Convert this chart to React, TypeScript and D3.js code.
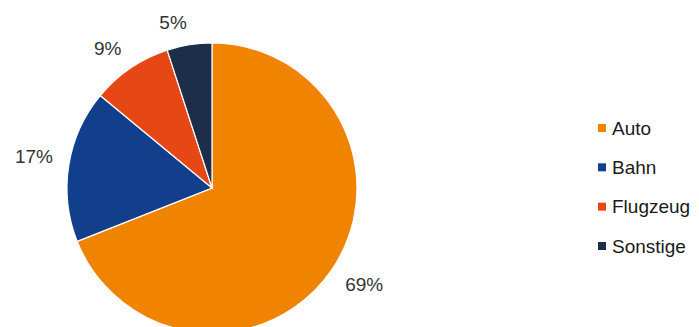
import React from "react";
import * as d3 from "d3";

const categories = ["Auto", "Bahn", "Flugzeug", "Sonstige"];
const values = [69, 17, 9, 5];
const colors = ["#f08300", "#123f8c", "#e64715", "#1c2e4a"];

export default function App() {
  const width = 699;
  const height = 327;
  const cx = 212;
  const cy = 188;
  const r = 145;
  const fs = 19;
  const data = categories.map((c, i) => ({ c, v: values[i], col: colors[i] }));
  const pie = d3.pie<any>().value((d) => d.v).sort(null);
  const arcs = pie(data);
  const arc = d3.arc<any>().innerRadius(0).outerRadius(r);
  const labelR = 161;
  const legendY = d3.scalePoint<string>().domain(categories).range([128, 246]);
  return (
    <svg width={width} height={height} style={{ position: "absolute", left: 0, top: 0 }}>
      <g transform={`translate(${cx},${cy})`}>
        {arcs.map((a, i) => (
          <path key={i} d={arc(a) as string} fill={a.data.col} stroke="#fff" strokeWidth={1.2} />
        ))}
        {arcs.map((a, i) => {
          const m = (a.startAngle + a.endAngle) / 2;
          const s = Math.sin(m);
          const c = -Math.cos(m);
          const label = `${a.data.v}%`;
          const w = (String(a.data.v).length * 0.556 + 0.889) * fs;
          const h = 12;
          const x = s * labelR + (Math.sign(s) * w) / 2;
          const y = c * labelR + (Math.sign(c) * h) / 2;
          return (
            <text key={i} x={x} y={y} textAnchor="middle" dominantBaseline="central"
              fontFamily="Liberation Sans, Arial, sans-serif" fontSize={fs} fill="#333">
              {label}
            </text>
          );
        })}
      </g>
      {data.map((d, i) => (
        <g key={i} transform={`translate(598,${legendY(d.c)})`}>
          <rect x={0} y={-4} width={8} height={8} fill={d.col} />
          <text x={14} y={0} dominantBaseline="central" fontFamily="Liberation Sans, Arial, sans-serif"
            fontSize={fs} fill="#1a1a1a">
            {d.c}
          </text>
        </g>
      ))}
    </svg>
  );
}
